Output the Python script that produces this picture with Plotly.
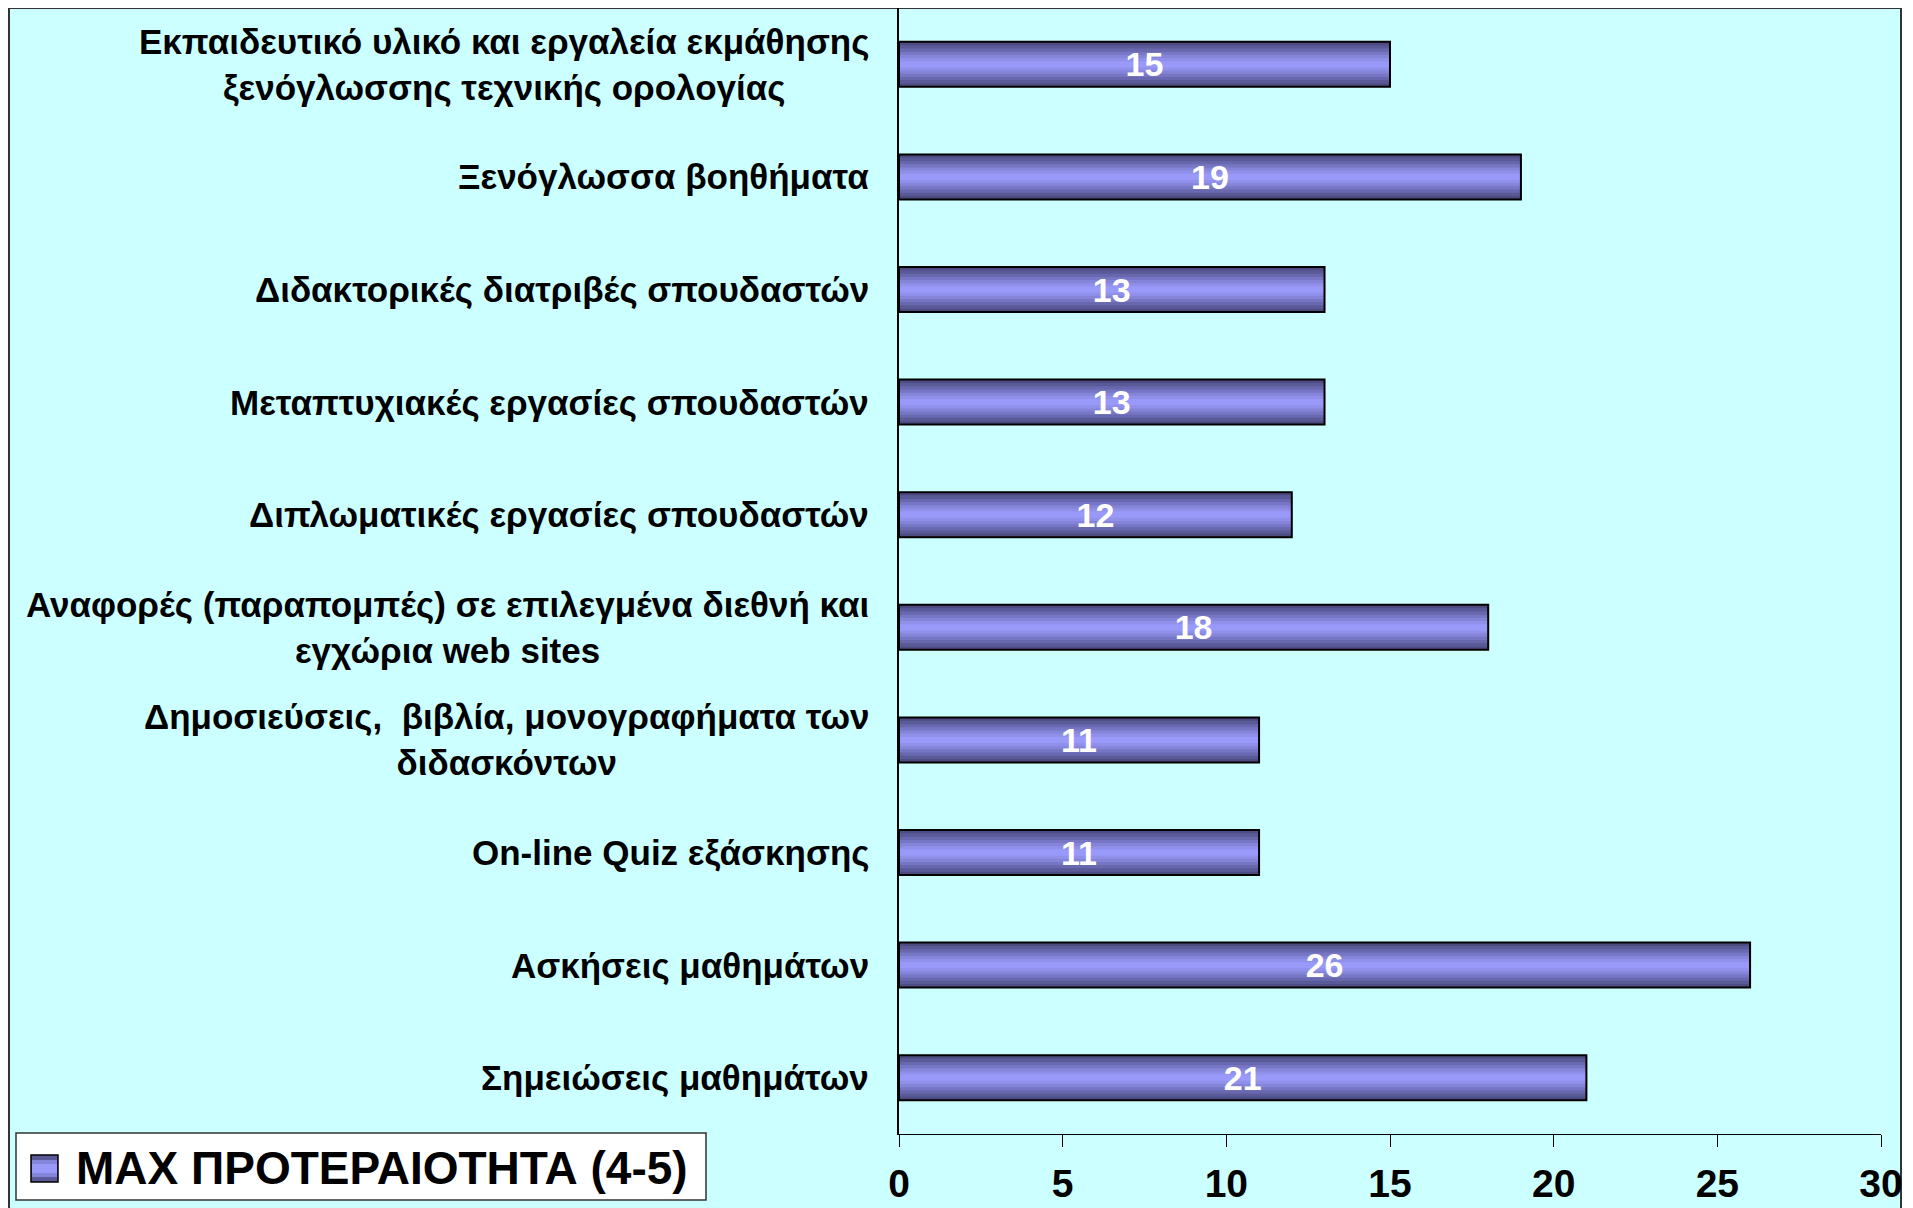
import plotly.graph_objects as go

# categories, top to bottom as in the chart
categories = [
    "Εκπαιδευτικό υλικό και εργαλεία εκμάθησης<br>ξενόγλωσσης τεχνικής ορολογίας",
    "Ξενόγλωσσα βοηθήματα",
    "Διδακτορικές διατριβές σπουδαστών",
    "Μεταπτυχιακές εργασίες σπουδαστών",
    "Διπλωματικές εργασίες σπουδαστών",
    "Αναφορές (παραπομπές) σε επιλεγμένα διεθνή και<br>εγχώρια web sites",
    "Δημοσιεύσεις,  βιβλία, μονογραφήματα των<br>διδασκόντων",
    "On-line Quiz εξάσκησης",
    "Ασκήσεις μαθημάτων",
    "Σημειώσεις μαθημάτων",
]
values = [15, 19, 13, 13, 12, 18, 11, 11, 26, 21]
series_name = "ΜΑΧ ΠΡΟΤΕΡΑΙΟΤΗΤΑ (4-5)"
x_ticks = [0, 5, 10, 15, 20, 25, 30]

# page is 1913x1208, the html body adds an 8px margin
OFF = 8
W, H = 1913 - OFF, 1208 - OFF
PL, PR, PT, PB = 899, 1881, 8, 1134   # plot area in page pixels
CYAN = "#ccffff"
FONT = "Liberation Sans, Arial, sans-serif"


def px(x):
    return (x - PL) / (PR - PL)


def py(y):
    return (PB - y) / (PB - PT)


fig = go.Figure()

# gradient bars: stacked overlay bars, dark edges to light centre
bar_w = 0.40
layers = [
    (1.00, "#4c4c82"),
    (0.85, "#5a5a98"),
    (0.70, "#6868ae"),
    (0.56, "#7676c4"),
    (0.42, "#8484d8"),
    (0.28, "#9090ea"),
    (0.14, "#9999fa"),
]
for frac, col in layers:
    fig.add_trace(go.Bar(
        y=categories, x=values, orientation="h",
        width=bar_w * frac,
        marker=dict(color=col, line=dict(width=0)),
        showlegend=False, hoverinfo="skip",
    ))

# outline + value labels on top
fig.add_trace(go.Bar(
    y=categories, x=values, orientation="h",
    width=bar_w, name=series_name,
    marker=dict(color="rgba(0,0,0,0)", line=dict(color="black", width=2)),
    text=values, texttemplate="<b>%{x}</b>",
    textposition="inside", insidetextanchor="middle", constraintext="none",
    textfont=dict(color="white", size=34, family=FONT),
    showlegend=False,
))

# category labels as centred annotations
annotations = []
for cat in categories:
    annotations.append(dict(
        x=px(871), xref="paper", xanchor="right",
        y=cat, yref="y", yanchor="middle",
        text="<b>" + cat + "</b>", align="center", showarrow=False,
        font=dict(size=35, color="black", family=FONT),
    ))

# legend text
annotations.append(dict(
    x=px(74), xref="paper", xanchor="left",
    y=py(1168), yref="paper", yanchor="middle",
    text="<b>" + series_name + "</b>", showarrow=False,
    font=dict(size=46, color="black", family=FONT),
))

shapes = [
    # cyan panel with border
    dict(type="rect", xref="paper", yref="paper", layer="below",
         x0=px(9), x1=px(1901), y0=py(1220), y1=py(8),
         fillcolor=CYAN, line=dict(color="#333333", width=2)),
    # legend box
    dict(type="rect", xref="paper", yref="paper",
         x0=px(16), x1=px(706), y0=py(1200), y1=py(1133),
         fillcolor="white", line=dict(color="#333333", width=1.5)),
    # legend swatch
    dict(type="rect", xref="paper", yref="paper",
         x0=px(31), x1=px(58), y0=py(1182), y1=py(1155),
         fillcolor="#5a5a98", line=dict(color="black", width=1.5)),
    dict(type="rect", xref="paper", yref="paper",
         x0=px(32), x1=px(57), y0=py(1177), y1=py(1160),
         fillcolor="#8484d8", line=dict(width=0)),
    dict(type="rect", xref="paper", yref="paper",
         x0=px(32), x1=px(57), y0=py(1173), y1=py(1164),
         fillcolor="#9999fa", line=dict(width=0)),
]

fig.update_layout(
    width=W, height=H,
    margin=dict(l=PL - OFF, r=W - (PR - OFF), t=PT - OFF, b=H - (PB - OFF)),
    barmode="overlay",
    paper_bgcolor="white",
    plot_bgcolor=CYAN,
    showlegend=False,
    font=dict(family=FONT, color="black"),
    annotations=annotations,
    shapes=shapes,
    xaxis=dict(
        range=[0, 30], tickvals=x_ticks,
        ticktext=["<b>%d</b>" % v for v in x_ticks],
        ticks="outside", ticklen=12, tickcolor="black", tickwidth=1,
        showline=True, linecolor="black", linewidth=1,
        showgrid=False, zeroline=False,
        tickfont=dict(size=39, family=FONT, color="black"),
        ticklabelstandoff=3,
    ),
    yaxis=dict(
        type="category", autorange="reversed",
        showticklabels=False, ticks="",
        showline=True, linecolor="black", linewidth=1.5,
        showgrid=False, zeroline=False,
    ),
)

fig.write_html("out.html")
